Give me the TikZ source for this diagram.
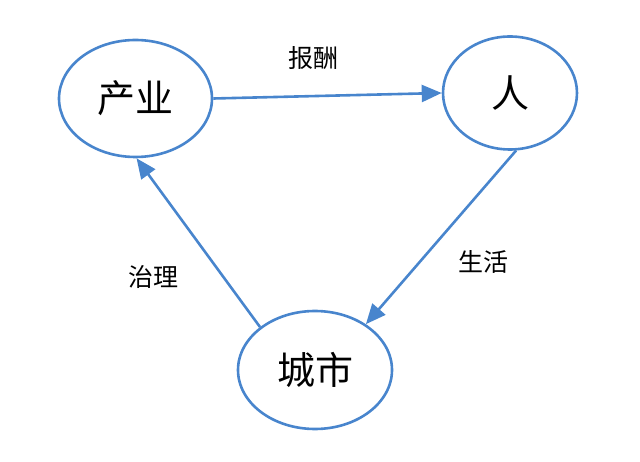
\documentclass[tikz,border=0pt]{standalone}
\usepackage{fontspec}
\newfontfamily\cjk{Noto Sans CJK SC}
\definecolor{linkblue}{RGB}{72,133,205}
\usetikzlibrary{positioning,shapes.geometric,arrows.meta}

\begin{document}
\begin{tikzpicture}[
    x=1pt, y=-1pt,
    every node/.style={font=\cjk},
    hub/.style={draw=linkblue, ellipse, line width=2.6pt, inner sep=0pt, font=\cjk\fontsize{38}{38}\selectfont},
    tag/.style={font=\cjk\fontsize{25}{25}\selectfont},
    link/.style={draw=linkblue, line width=2.6pt, -{Triangle[length=20pt,width=17pt]}}
]
\useasboundingbox (0,0) rectangle (640,462);
\node[hub, minimum width=153pt, minimum height=117pt] (chanye) at (135.5,98.5) {产业};
\node[hub, minimum width=134pt, minimum height=113pt] (ren) at (510,93) {人};
\node[hub, minimum width=154pt, minimum height=118pt] (chengshi) at (315,370) {城市};

\node[tag] (baochou) at (313,58) {报酬};
\node[tag] (shenghuo) at (483,262) {生活};
\node[tag] (zhili) at (153,277) {治理};

\draw[link] (chanye.east) -- (ren.west);
\draw[link] (ren.-84) -- (chengshi.42);
\draw[link] (chengshi.142) -- (chanye.-89);
\end{tikzpicture}
\end{document}
